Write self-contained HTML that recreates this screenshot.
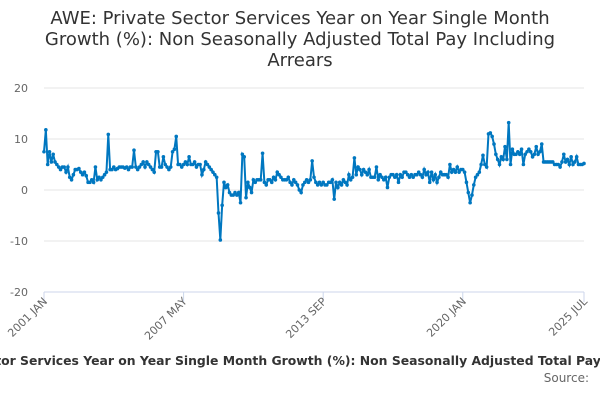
<!DOCTYPE html>
<html><head><meta charset="utf-8"><style>
body{margin:0;width:600px;height:400px;overflow:hidden;background:#fff;font-family:"DejaVu Sans",sans-serif}
</style></head><body>
<svg width="600" height="400" id="c" xmlns="http://www.w3.org/2000/svg" font-family="DejaVu Sans, sans-serif">
<text x="300" y="24" text-anchor="middle" font-size="18" fill="#333">AWE: Private Sector Services Year on Year Single Month</text>
<text x="300" y="45" text-anchor="middle" font-size="18" fill="#333">Growth (%): Non Seasonally Adjusted Total Pay Including</text>
<text x="300" y="66" text-anchor="middle" font-size="18" fill="#333">Arrears</text>
<g id="grid"></g><g id="xt"></g>
<path id="line" fill="none" stroke="#0077c0" stroke-width="2"/>
<g id="dots"></g>
<text x="-84" y="365" font-size="12.4" font-weight="bold" fill="#333">Private Sector Services Year on Year Single Month Growth (%): Non Seasonally Adjusted Total Pay Including Arrears</text>
<text x="589" y="382" text-anchor="end" font-size="12" fill="#666">Source:</text>
</svg>
<script>
const yTicks=[20,10,0,-10,-20];
const xLabels=["2001 JAN","2007 MAY","2013 SEP","2020 JAN","2025 JUL"];
const xLabelIdx=[0,76,152,228,294];
const values=[
7.5,11.8,5,7.5,5.5,7,5.5,5,4.5,4,4.5,4.5,
3.5,4.5,2.5,2,3,4,4,4.2,3.5,3,3.5,2.8,
1.5,1.5,2,1.5,4.5,2,2.5,2,2.5,3,3.5,10.9,
4,4,4.5,4,4.2,4.5,4.5,4.5,4.3,4.5,4,4.5,
4.5,7.8,4.5,4,4.5,5,5.5,4.5,5.5,5,4.5,4,
3.5,7.5,7.5,4.5,4.5,6.5,5,4.5,4,4.5,7.5,8,
10.5,5,5,4.5,5,5.5,5,6.5,5,5,5.5,4.5,
5,5,3,4,5.5,5,4.5,4,3.5,3,2.5,-4.5,
-9.8,-3,1.5,0.5,1,-0.5,-1,-1,-0.5,-1,-0.5,-2.5,
7,6.5,-1.5,1.5,0.5,-0.5,2,1.5,2,2,2,7.2,
1.5,1,2,2,1.5,2.5,2,3.5,3,2.5,2,2,
2,2.5,1.5,1,2,1.5,1,0,-0.5,1,1.5,2,
1.5,2,5.7,2.5,1.5,1,1.5,1,1.5,1,1,1.5,
1.5,2,-1.8,1.5,0.5,1.5,1,2,1.5,1,3,2,
2.5,6.3,3,4.5,4,3,4,3.5,3,4,2.5,2.5,
2.5,4.5,2,3,2.5,2,2.5,0.5,2.5,3,3,2.5,
3,1.5,3,2.5,3.5,3.5,3,2.5,3,2.5,3,3,
3.5,3,2.5,4,3,3.5,1.5,3.5,2,3,1.5,2.5,
3.5,3,3,3,2.5,5,3.5,4,3.5,4.5,3.5,4,
4,3.5,1.5,-0.5,-2.5,-1,1,2.5,3,3.5,5,6.8,
5,4.5,11,11.2,10.5,9,7,6,5,6.5,6,8.5,
6,13.2,5,8,7,7,7.5,7,8,5,7,7.5,
8,7.5,6.5,7,8.5,7,7.5,9,5.5,5.5,5.5,5.5,
5.5,5.5,5,5,5,4.5,5.5,7,5.5,6,5,6.5,
5,5.5,6.5,5,5,5,5.2];
const X0=44,X1=584,Y0=190,PX=5.1;
const xs=i=>X0+(X1-X0)*i/(values.length-1);
const ys=v=>Y0-v*PX;
const NS="http://www.w3.org/2000/svg";
const grid=document.getElementById('grid');
yTicks.forEach(t=>{
 const l=document.createElementNS(NS,'line');
 
 
 l.setAttribute('x1',X0);l.setAttribute('x2',X1);l.setAttribute('y1',ys(t));l.setAttribute('y2',ys(t));
 l.setAttribute('stroke',t===-20?'#ccd6eb':'#e6e6e6');l.setAttribute('stroke-width','1');
 grid.appendChild(l);
 const tx=document.createElementNS(NS,'text');
 
 
 tx.setAttribute('x',28);tx.setAttribute('y',ys(t)+4);tx.setAttribute('text-anchor','end');
 tx.setAttribute('font-size','11');tx.setAttribute('fill','#666');tx.textContent=t;
 grid.appendChild(tx);
});
const xt=document.getElementById('xt');
xLabels.forEach((lab,k)=>{
 const x=xs(xLabelIdx[k]);
 const tk=document.createElementNS(NS,'line');
 
 
 tk.setAttribute('x1',x);tk.setAttribute('x2',x);tk.setAttribute('y1',292);tk.setAttribute('y2',302);
 tk.setAttribute('stroke','#ccd6eb');xt.appendChild(tk);
 const tx=document.createElementNS(NS,'text');
 
 
 tx.setAttribute('x',x+4);tx.setAttribute('y',302);tx.setAttribute('text-anchor','end');
 tx.setAttribute('font-size','11');tx.setAttribute('fill','#666');
 tx.setAttribute('transform','rotate(-45 '+(x+4)+' 302)');tx.textContent=lab;
 xt.appendChild(tx);
});
let d='';
const dots=document.getElementById('dots');
values.forEach((v,i)=>{
 d+=(i?'L':'M')+xs(i).toFixed(2)+' '+ys(v).toFixed(2);
 const c=document.createElementNS(NS,'circle');
 
 
 c.setAttribute('cx',xs(i));c.setAttribute('cy',ys(v));c.setAttribute('r','1.8');c.setAttribute('fill','#0077c0');
 dots.appendChild(c);
});
document.getElementById('line').setAttribute('d',d);
</script>
</body></html>
